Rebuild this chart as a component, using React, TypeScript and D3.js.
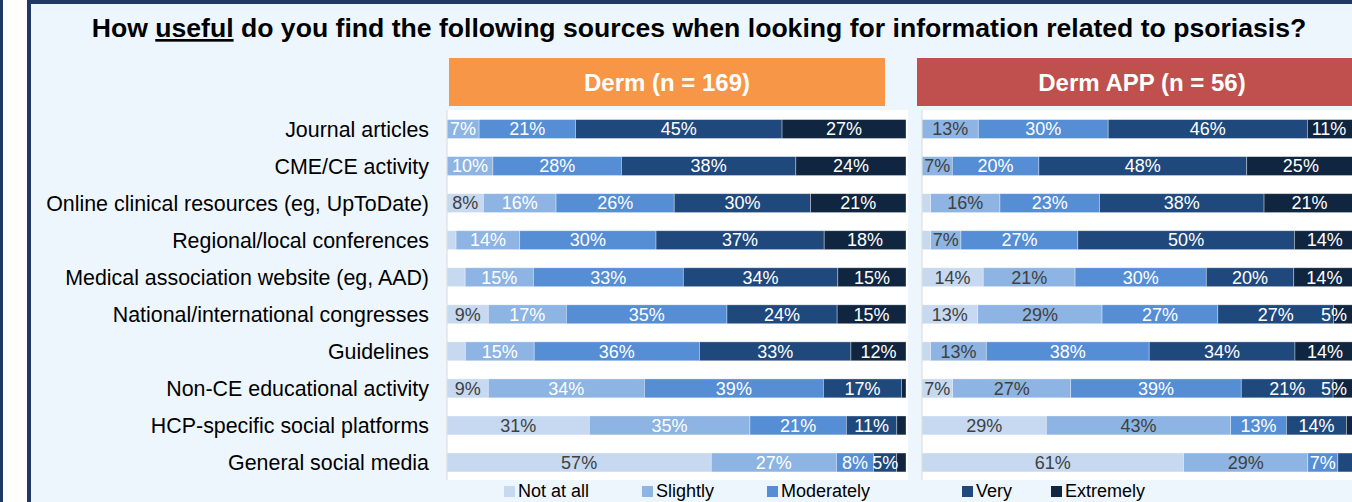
import React from "react";
import * as d3 from "d3";

const categories = [
  "Journal articles",
  "CME/CE activity",
  "Online clinical resources (eg, UpToDate)",
  "Regional/local conferences",
  "Medical association website (eg, AAD)",
  "National/international congresses",
  "Guidelines",
  "Non-CE educational activity",
  "HCP-specific social platforms",
  "General social media",
];
const levels = ["Not at all", "Slightly", "Moderately", "Very", "Extremely"];

const dermNotAtAll = [0, 0, 8, 2, 4, 9, 4, 9, 31, 57];
const dermSlightly = [7, 10, 16, 14, 15, 17, 15, 34, 35, 27];
const dermModerately = [21, 28, 26, 30, 33, 35, 36, 39, 21, 8];
const dermVery = [45, 38, 30, 37, 34, 24, 33, 17, 11, 5];
const dermExtremely = [27, 24, 21, 18, 15, 15, 12, 1, 2, 2];

const appNotAtAll = [0, 0, 2, 2, 14, 13, 2, 7, 29, 61];
const appSlightly = [13, 7, 16, 7, 21, 29, 13, 27, 43, 29];
const appModerately = [30, 20, 23, 27, 30, 27, 38, 39, 13, 7];
const appVery = [46, 48, 38, 50, 20, 27, 34, 21, 14, 4];
const appExtremely = [11, 25, 21, 14, 14, 5, 14, 5, 2, 0];

const panelTitles = ["Derm (n = 169)", "Derm APP (n = 56)"];
const title = ["How ", "useful", " do you find the following sources when looking for information related to psoriasis?"];

const colors = ["#C6D9F1", "#8DB4E2", "#558ED5", "#1F497D", "#10253F"];
const FONT = "'Liberation Sans', Arial, sans-serif";

type Row = { cat: string; [k: string]: any };

function buildRows(series: number[][]): Row[] {
  return categories.map((c, i) => {
    const r: Row = { cat: c };
    levels.forEach((l, j) => (r[l] = series[j][i]));
    return r;
  });
}

const dermRows = buildRows([dermNotAtAll, dermSlightly, dermModerately, dermVery, dermExtremely]);
const appRows = buildRows([appNotAtAll, appSlightly, appModerately, appVery, appExtremely]);

const stack = d3.stack<Row>().keys(levels).offset(d3.stackOffsetExpand);

function labelWidth(s: string, fs: number) {
  let w = 0;
  for (const ch of s) w += ch === "%" ? 0.889 : 0.556;
  return w * fs;
}

function Panel({ rows, x0, x1, darkKeys, header, hx0, hx1, hcolor, clampRight }: any) {
  const x = d3.scaleLinear().domain([0, 1]).range([x0, x1]);
  const y = d3.scaleBand<string>().domain(categories).range([110.5, 481]).paddingInner(0.49).paddingOuter(0.245);
  const series = stack(rows);
  const fs = 18;
  return (
    <g>
      <rect x={hx0} y={58} width={hx1 - hx0} height={48} fill={hcolor} />
      <text x={(hx0 + hx1) / 2} y={91} textAnchor="middle" fill="#fff" fontWeight="bold" fontSize={24} fontFamily={FONT}>
        {header}
      </text>
      <rect x={x0} y={110} width={x1 - x0 + 2} height={370} fill="#fff" />
      {series.map((s, j) => (
        <g key={s.key}>
          {s.map((d, i) => (
            <rect
              key={i}
              x={x(d[0])}
              y={y(categories[i])}
              width={Math.max(0, x(d[1]) - x(d[0]))}
              height={y.bandwidth()}
              fill={colors[j]}
              stroke="#fff"
              strokeOpacity={0.45}
              strokeWidth={0.75}
            />
          ))}
        </g>
      ))}
      <line x1={x0} x2={x0} y1={110} y2={480} stroke="#D9D9D9" strokeWidth={1} />
      {series.map((s, j) => (
        <g key={"l" + s.key}>
          {s.map((d, i) => {
            const v = (d.data as Row)[s.key];
            if (v < 5) return null;
            const label = v + "%";
            let cx = (x(d[0]) + x(d[1])) / 2;
            const w = labelWidth(label, fs);
            if (clampRight && cx + w / 2 > clampRight) cx = clampRight - w / 2;
            return (
              <text
                key={i}
                x={cx}
                y={(y(categories[i]) as number) + y.bandwidth() / 2}
                dy="0.35em"
                textAnchor="middle"
                fontSize={fs}
                fontFamily={FONT}
                fill={darkKeys.includes(s.key) ? "#404040" : "#fff"}
              >
                {label}
              </text>
            );
          })}
        </g>
      ))}
    </g>
  );
}

export default function App() {
  const y = d3.scaleBand<string>().domain(categories).range([110.5, 481]).paddingInner(0.49).paddingOuter(0.245);
  const legendX = [504, 642, 767, 962, 1051];
  return (
    <div>
      <style>{`body{margin:0;} svg{display:block;}`}</style>
      <svg width={1352} height={502} style={{ background: "#fff" }}>
        <rect x={0} y={0} width={3} height={502} fill="#1F3864" />
        <rect x={29} y={2} width={1400} height={600} fill="#EEF6FD" stroke="#1F3864" strokeWidth={4} />
        <text x={699} y={37} textAnchor="middle" fontSize={26.6} fontWeight="bold" fontFamily={FONT} fill="#000">
          <tspan>{title[0]}</tspan>
          <tspan style={{ textDecoration: "underline" }}>{title[1]}</tspan>
          <tspan>{title[2]}</tspan>
        </text>
        {categories.map((c) => (
          <text
            key={c}
            x={429}
            y={(y(c) as number) + y.bandwidth() / 2}
            dy="0.35em"
            textAnchor="end"
            fontSize={21.4}
            fontFamily={FONT}
            fill="#000"
          >
            {c}
          </text>
        ))}
        <Panel
          rows={dermRows}
          x0={447}
          x1={906}
          darkKeys={["Not at all"]}
          header={panelTitles[0]}
          hx0={449}
          hx1={885}
          hcolor="#F79646"
        />
        <Panel
          rows={appRows}
          x0={922}
          x1={1355}
          darkKeys={["Not at all", "Slightly"]}
          header={panelTitles[1]}
          hx0={917}
          hx1={1367}
          hcolor="#C0504D"
          clampRight={1347}
        />
        {levels.map((l, i) => (
          <g key={l}>
            <rect x={legendX[i]} y={486} width={11} height={11} fill={colors[i]} />
            <text x={legendX[i] + 14} y={497} fontSize={18} fontFamily={FONT} fill="#000">
              {l}
            </text>
          </g>
        ))}
      </svg>
    </div>
  );
}
